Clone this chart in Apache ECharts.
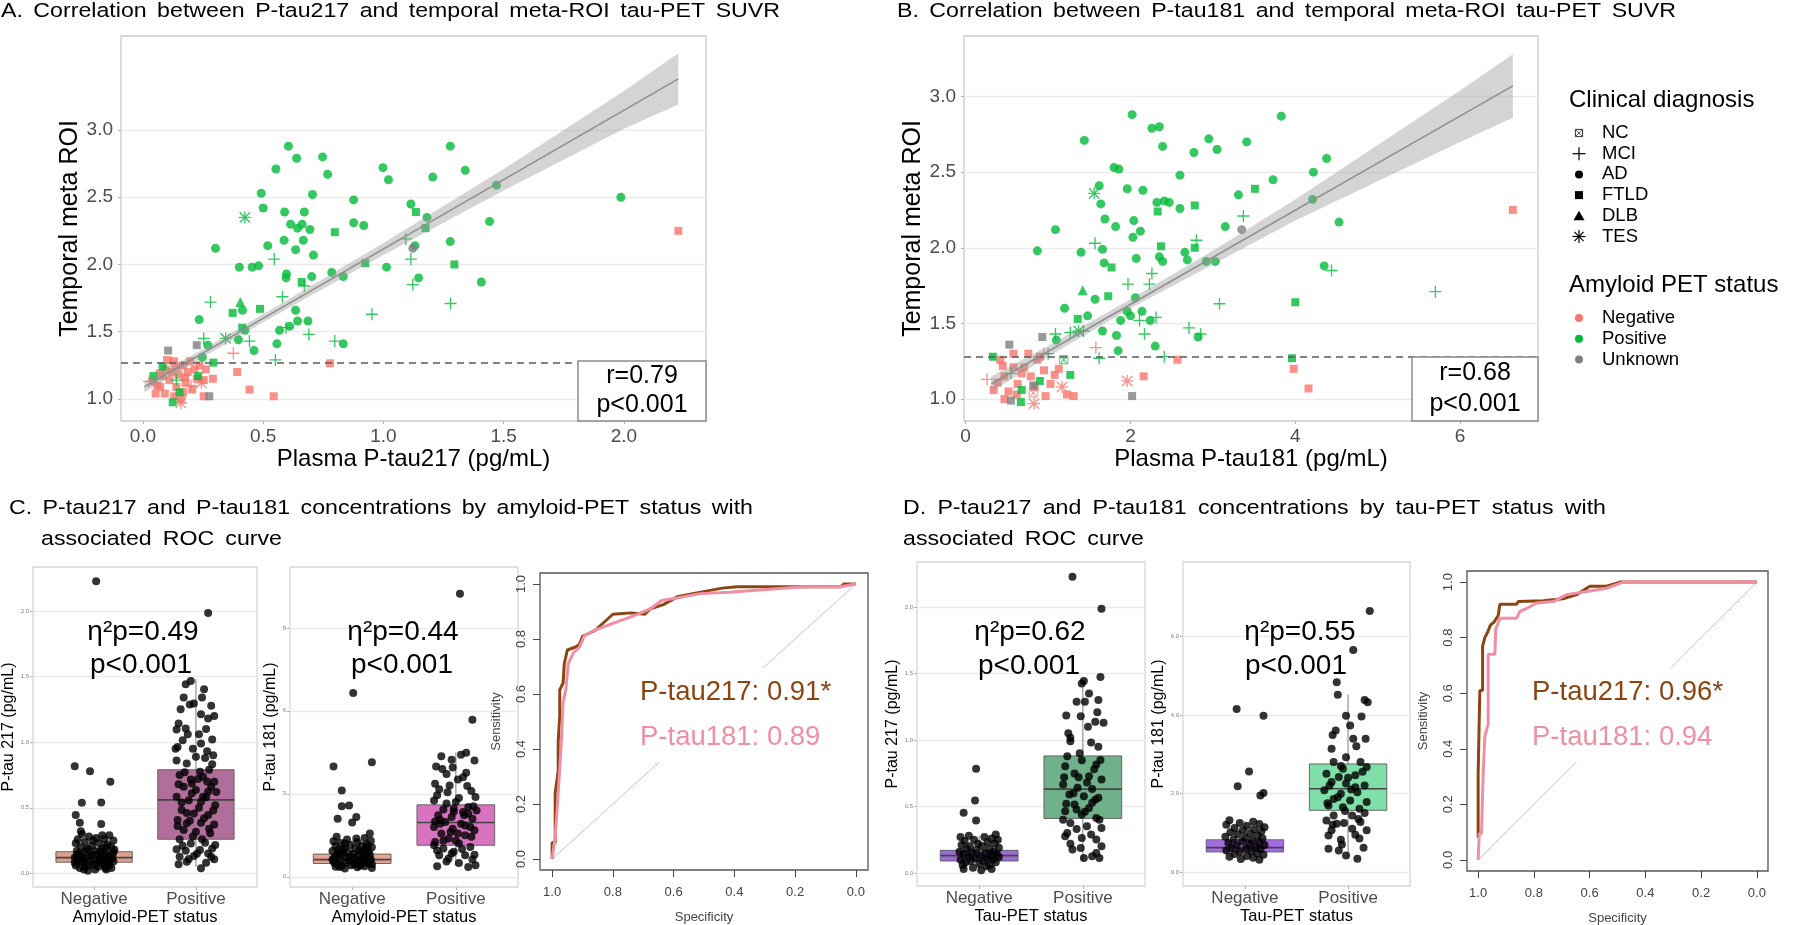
<!DOCTYPE html>
<html>
<head>
<meta charset="utf-8">
<script src="https://cdn.jsdelivr.net/npm/echarts@6.0.0/dist/echarts.min.js"></script>
<style>
html, body { margin: 0; padding: 0; background: #fff; }
#main { width: 1800px; height: 925px; }
</style>
</head>
<body>
<div id="main"></div>
<script>
// ---- data ----

// A: P-tau217 vs temporal meta-ROI SUVR  [x, y]
var aAdPos = [[0.605,2.88],[0.639,2.79],[0.747,2.80],[0.553,2.71],[0.768,2.67],[0.998,2.72],[1.021,2.63],[1.205,2.65],[1.340,2.70],[1.278,2.88],[0.492,2.53],[0.500,2.42],[0.705,2.52],[0.589,2.39],[0.671,2.39],[0.876,2.48],[1.114,2.45],[0.614,2.30],[0.662,2.30],[0.643,2.27],[0.694,2.26],[0.876,2.31],[0.918,2.29],[1.181,2.35],[1.441,2.32],[1.470,2.59],[1.987,2.50],[0.302,2.12],[0.519,2.14],[0.587,2.18],[0.667,2.18],[0.635,2.11],[0.709,2.07],[1.131,2.14],[1.278,2.17],[0.401,1.98],[0.454,1.98],[0.481,1.99],[0.597,1.93],[0.595,1.90],[0.702,1.91],[0.785,1.94],[0.833,1.91],[1.013,1.98],[1.146,1.90],[1.407,1.87],[0.234,1.59],[0.414,1.66],[0.635,1.66],[0.568,1.51],[0.610,1.54],[0.643,1.58],[0.686,1.58],[0.424,1.51],[0.397,1.44],[0.557,1.41],[0.462,1.36],[0.833,1.41],[0.270,1.40],[0.247,1.31]];
var aFtldPos = [[0.798,2.24],[1.135,2.39],[1.175,2.27],[0.924,2.01],[1.295,2.00],[0.660,1.87],[0.373,1.64],[0.487,1.67],[0.413,1.53],[0.293,1.27],[0.082,1.24],[0.044,1.17],[0.124,0.975],[0.230,1.17],[0.152,1.05]];
var aMciPos = [[0.546,2.04],[1.093,2.19],[1.114,2.04],[1.122,1.85],[1.279,1.71],[0.952,1.63],[0.281,1.72],[0.580,1.76],[0.671,1.84],[0.690,1.48],[0.798,1.43],[0.443,1.43],[0.253,1.45],[0.551,1.29],[0.595,1.53],[0.139,1.14]];
var aDlbPos = [[0.405,1.72]];
var aTesPos = [[0.424,2.35],[0.344,1.45]];
var aFtldUnk = [[0.105,1.36],[0.224,1.40],[0.276,1.02]];
var aAdUnk = [[1.122,2.12]];
var aFtldNeg = [[2.226,2.25],[0.778,1.265],[0.392,1.20],[0.443,1.07],[0.544,1.02],[0.253,1.02],[0.053,1.04],[0.072,1.09],[0.100,1.29],[0.129,1.28],[0.167,1.25],[0.186,1.20],[0.215,1.22],[0.262,1.22],[0.291,1.15],[0.253,1.14],[0.158,1.00],[0.139,1.09],[0.110,1.14],[0.082,1.17],[0.044,1.13],[0.177,1.12],[0.205,1.07],[0.120,1.20],[0.148,1.18],[0.091,1.04],[0.224,1.15],[0.167,1.05],[0.060,1.10],[0.095,1.22],[0.140,1.24],[0.175,1.16],[0.195,1.28],[0.235,1.25],[0.130,1.02],[0.070,1.19]];
var aMciNeg = [[0.376,1.34],[0.025,1.13],[0.120,1.27],[0.200,1.10]];
var aTesNeg = [[0.158,0.97],[0.243,1.12]];
var aFit = [[0.006,1.09],[2.226,3.38]];
var aBandX = [0.006, 0.25, 0.5, 1.0, 1.5, 2.0, 2.226];
var aBandLo = [1.05, 1.31, 1.57, 2.07, 2.55, 3.01, 3.19];
var aBandHi = [1.13, 1.37, 1.63, 2.16, 2.71, 3.29, 3.57];
var aCut = 1.27;
var aXTicks = [0, 0.5, 1, 1.5, 2];
var aYTicks = [1, 1.5, 2, 2.5, 3];

// B: P-tau181 vs temporal meta-ROI SUVR  [x, y]
var bAdPos = [[2.02,2.88],[3.83,2.87],[2.26,2.79],[2.35,2.80],[1.44,2.71],[2.95,2.72],[3.41,2.70],[2.39,2.67],[2.77,2.63],[3.05,2.65],[4.38,2.59],[1.80,2.53],[1.86,2.52],[4.22,2.50],[2.60,2.48],[1.62,2.41],[1.96,2.39],[2.15,2.38],[3.73,2.45],[3.31,2.35],[1.64,2.29],[2.32,2.30],[2.41,2.31],[2.47,2.30],[2.60,2.26],[4.21,2.32],[1.69,2.19],[2.04,2.18],[4.53,2.17],[1.09,2.12],[1.82,2.14],[2.12,2.11],[2.03,2.07],[3.15,2.14],[0.87,1.98],[1.40,1.97],[1.66,1.99],[2.07,1.93],[2.35,1.94],[2.39,1.91],[2.66,1.97],[2.69,1.92],[2.92,1.91],[3.03,1.91],[4.35,1.88],[1.68,1.90],[1.20,1.60],[1.48,1.55],[1.57,1.66],[2.06,1.67],[1.96,1.58],[2.14,1.58],[2.00,1.55],[1.88,1.52],[2.24,1.52],[1.66,1.45],[1.83,1.42],[1.85,1.32],[2.30,1.35],[2.82,1.41],[1.10,1.39]];
var bFtldPos = [[3.51,2.39],[2.78,2.28],[2.33,2.24],[2.37,2.01],[2.78,2.00],[1.77,1.87],[1.73,1.68],[4.00,1.64],[1.36,1.53],[3.96,1.27],[0.33,1.28],[1.27,1.16],[0.90,1.12],[0.68,1.06],[0.67,0.98]];
var bMciPos = [[3.37,2.21],[1.57,2.03],[2.80,2.05],[4.44,1.85],[2.26,1.83],[1.97,1.76],[2.23,1.76],[3.08,1.63],[5.70,1.71],[2.31,1.54],[2.11,1.52],[2.17,1.43],[2.71,1.47],[2.85,1.43],[1.43,1.45],[1.27,1.44],[1.09,1.43],[1.62,1.27],[2.41,1.28],[1.00,1.30],[0.55,1.17]];
var bDlbPos = [[1.42,1.72]];
var bTesPos = [[1.56,2.36],[1.37,1.45]];
var bNcPos = [[1.19,1.26]];
var bNcNeg = [[0.82,1.04]];
var bFtldUnk = [[0.53,1.36],[0.93,1.41],[2.02,1.02],[0.82,1.09],[0.55,0.99]];
var bAdUnk = [[3.35,2.12]];
var bFtldNeg = [[6.64,2.25],[2.57,1.26],[3.98,1.20],[4.16,1.07],[2.16,1.15],[0.34,1.06],[0.42,1.26],[0.47,1.15],[0.58,1.30],[0.63,1.10],[0.71,1.21],[0.79,1.15],[0.87,1.26],[0.95,1.19],[1.03,1.10],[1.08,1.16],[1.13,1.20],[1.23,1.03],[1.31,1.02],[0.97,1.02],[0.47,1.00],[0.39,1.11],[0.52,1.05],[0.68,1.17],[0.84,1.08],[0.90,1.28],[0.58,1.21],[0.76,1.30],[0.45,1.22],[0.62,1.03]];
var bMciNeg = [[0.26,1.13],[1.58,1.34],[0.95,1.30]];
var bTesNeg = [[1.96,1.12],[1.17,1.08],[0.83,0.97]];
var bFit = [[0.31,1.10],[6.64,3.07]];
var bBandX = [0.31, 1.0, 2.0, 3.0, 4.0, 5.0, 6.0, 6.64];
var bBandLo = [1.05, 1.28, 1.60, 1.89, 2.18, 2.44, 2.70, 2.86];
var bBandHi = [1.15, 1.35, 1.66, 1.98, 2.32, 2.68, 3.04, 3.28];
var bCut = 1.28;
var bXTicks = [0, 2, 4, 6];
var bYTicks = [1, 1.5, 2, 2.5, 3];

// box plots: [category, min, q1, median, q3, max]
var boxCats = ['Negative', 'Positive'];
var c1Box = [[1, 0.02, 0.085, 0.12, 0.165, 0.28], [2, 0.05, 0.26, 0.56, 0.79, 1.48]];
var c2Box = [[1, 0.28, 0.48, 0.62, 0.82, 1.32], [2, 0.38, 1.14, 1.96, 2.60, 4.50]];
var d1Box = [[1, 0.02, 0.09, 0.13, 0.17, 0.28], [2, 0.09, 0.41, 0.63, 0.88, 1.40]];
var d2Box = [[1, 0.28, 0.51, 0.62, 0.82, 1.30], [2, 0.38, 1.57, 2.12, 2.75, 4.52]];

// jittered points: [offset from category, value]
var c1NegJit = [[0.02,2.226],[-0.19,0.817],[-0.04,0.779],[0.16,0.698],[-0.12,0.538],[0.07,0.541],[-0.18,0.444],[-0.14,0.386],[0.07,0.376],[-0.12,0.30],[0.15,0.29],[-0.05,0.28],[0.02,0.27],[-0.16,0.26],[0.10,0.26],[0.19,0.25],[-0.09,0.24],[0.05,0.23],[-0.18,0.23],[0.13,0.22],[-0.02,0.21],[0.17,0.20],[-0.13,0.20],[0.08,0.19],[-0.06,0.18],[0.20,0.18],[0.01,0.17],[-0.17,0.17],[0.11,0.16],[-0.10,0.16],[0.04,0.15],[0.18,0.15],[-0.14,0.14],[0.09,0.14],[-0.03,0.13],[0.14,0.13],[-0.19,0.12],[0.06,0.12],[-0.08,0.12],[0.16,0.11],[-0.12,0.11],[0.02,0.10],[0.12,0.10],[-0.16,0.10],[-0.05,0.09],[0.19,0.09],[0.07,0.08],[-0.11,0.08],[0.14,0.07],[-0.01,0.07],[-0.18,0.06],[0.10,0.06],[0.04,0.05],[-0.09,0.05],[0.17,0.04],[-0.14,0.04],[0.01,0.03],[0.12,0.03],[-0.06,0.02],[-0.07,0.19],[0.12,0.20],[-0.15,0.15],[0.06,0.17],[0.18,0.12],[-0.02,0.14],[-0.12,0.09],[0.09,0.10],[0.15,0.06],[-0.05,0.06],[0.03,0.08],[-0.19,0.08],[0.11,0.04],[-0.10,0.03],[0.07,0.12],[-0.17,0.13],[0.19,0.16],[-0.01,0.25],[0.08,0.29],[-0.13,0.32]];
var c1PosJit = [[0.12,1.985],[-0.05,1.467],[-0.10,1.442],[0.08,1.404],[-0.12,1.340],[-0.06,1.287],[-0.02,1.294],[0.06,1.340],[0.15,1.277],[0.12,1.180],[0.18,1.200],[0.05,1.213],[-0.17,1.142],[-0.10,1.104],[-0.19,1.096],[-0.13,1.015],[-0.18,0.964],[0.05,0.990],[0.11,0.931],[0.00,0.888],[-0.09,0.838],[0.16,0.832],[-0.16,0.749],[-0.05,0.716],[0.07,0.736],[0.18,0.698],[-0.12,0.660],[0.00,0.635],[0.12,0.622],[-0.19,0.584],[-0.07,0.558],[0.05,0.546],[0.19,0.520],[-0.14,0.482],[-0.02,0.457],[0.12,0.444],[-0.18,0.406],[-0.09,0.381],[0.05,0.386],[0.18,0.373],[-0.12,0.330],[0.00,0.317],[0.14,0.305],[-0.16,0.259],[-0.05,0.228],[0.09,0.234],[0.19,0.216],[-0.19,0.183],[-0.10,0.173],[0.04,0.178],[0.12,0.152],[-0.16,0.127],[-0.02,0.132],[0.18,0.107],[-0.09,0.089],[0.05,0.038],[0.15,0.127],[0.07,0.584],[-0.04,0.685],[0.04,0.774],[-0.15,1.25],[0.10,1.10],[-0.08,1.06],[0.16,1.02],[-0.03,0.95],[0.09,0.88],[-0.19,0.86],[0.13,0.79],[-0.11,0.77],[0.02,0.72],[-0.17,0.68],[0.15,0.66],[-0.04,0.61],[0.10,0.58],[-0.14,0.54],[0.17,0.48],[0.03,0.50],[-0.09,0.46],[0.08,0.42],[-0.18,0.36],[0.13,0.34],[-0.03,0.28],[0.06,0.26],[-0.13,0.21],[0.16,0.19],[0.01,0.15],[-0.07,0.11],[0.10,0.08],[-0.17,0.07],[0.20,0.62],[-0.20,0.95],[0.03,1.06],[0.17,0.90],[-0.06,0.40],[0.11,0.70]];
var c2NegJit = [[0.01,6.64],[-0.18,3.99],[0.19,4.14],[-0.10,3.12],[-0.10,2.55],[-0.03,2.58],[-0.14,2.10],[0.04,2.16],[0.00,1.96],[0.17,1.56],[-0.15,1.45],[0.12,1.40],[-0.05,1.35],[0.18,1.30],[-0.18,1.28],[0.05,1.25],[-0.11,1.22],[0.14,1.18],[-0.02,1.15],[0.09,1.12],[-0.16,1.10],[0.19,1.07],[-0.07,1.05],[0.03,1.02],[0.13,1.00],[-0.13,0.98],[0.07,0.95],[-0.19,0.93],[0.16,0.90],[-0.04,0.88],[0.11,0.86],[-0.10,0.84],[0.01,0.82],[0.17,0.80],[-0.15,0.78],[0.06,0.76],[-0.08,0.74],[0.14,0.72],[-0.17,0.70],[0.02,0.68],[0.10,0.66],[-0.12,0.64],[0.18,0.62],[-0.03,0.60],[0.08,0.58],[-0.18,0.56],[0.13,0.54],[-0.06,0.52],[0.04,0.50],[0.16,0.48],[-0.14,0.46],[0.09,0.44],[-0.01,0.42],[-0.10,0.40],[0.12,0.38],[-0.16,0.36],[0.05,0.34],[0.19,0.32],[-0.07,0.30],[-0.09,0.95],[0.13,0.62],[-0.17,0.50],[0.07,0.40],[0.17,0.55],[-0.02,0.72],[-0.12,0.35],[0.10,0.92],[-0.07,1.20],[0.04,1.38],[0.19,0.45],[-0.19,0.62],[0.02,0.46],[-0.14,0.85],[0.15,1.10]];
var c2PosJit = [[0.04,10.23],[0.16,5.68],[0.10,4.48],[0.05,4.41],[-0.14,4.36],[-0.04,4.23],[0.18,4.20],[-0.19,3.99],[0.10,3.76],[-0.09,3.72],[0.02,3.52],[-0.20,3.36],[0.11,3.28],[-0.16,3.16],[-0.08,3.06],[0.19,2.88],[-0.21,2.76],[0.00,2.70],[0.12,2.52],[-0.12,2.43],[0.07,2.34],[-0.17,2.22],[-0.04,2.16],[0.16,2.10],[-0.10,1.98],[0.05,1.92],[-0.21,1.80],[-0.03,1.74],[0.18,1.68],[-0.14,1.56],[0.09,1.50],[-0.07,1.38],[-0.20,1.26],[0.03,1.20],[0.14,1.08],[-0.12,1.02],[-0.02,0.90],[-0.16,0.78],[0.09,0.78],[-0.07,0.66],[0.16,0.62],[-0.18,0.38],[0.03,0.50],[0.19,0.42],[-0.04,0.84],[0.02,1.56],[-0.15,1.92],[0.08,2.22],[-0.02,2.46],[-0.21,1.14],[-0.13,3.9],[0.07,3.6],[-0.06,3.3],[0.15,3.1],[-0.18,2.95],[0.03,2.85],[-0.09,2.65],[0.17,2.55],[-0.02,2.35],[0.12,2.28],[-0.15,2.05],[0.09,1.85],[-0.05,1.62],[0.15,1.45],[-0.12,1.30],[0.06,1.00],[-0.18,0.95],[0.18,0.80],[-0.09,0.55],[0.12,0.35],[0.00,1.30],[-0.20,2.00],[0.20,2.40],[-0.03,3.95],[0.14,1.80]];
var d1NegJit = [[-0.03,0.783],[-0.04,0.545],[-0.15,0.452],[-0.03,0.394],[0.16,0.29],[-0.10,0.28],[0.05,0.27],[-0.18,0.27],[0.12,0.26],[-0.05,0.25],[0.18,0.25],[-0.14,0.24],[0.08,0.23],[-0.01,0.22],[0.15,0.22],[-0.17,0.21],[0.03,0.20],[-0.09,0.20],[0.19,0.19],[0.10,0.18],[-0.12,0.18],[-0.03,0.17],[0.14,0.16],[-0.19,0.16],[0.06,0.15],[-0.07,0.15],[0.17,0.14],[-0.15,0.14],[0.01,0.13],[0.11,0.13],[-0.10,0.12],[0.19,0.12],[-0.04,0.11],[0.08,0.11],[-0.18,0.10],[0.13,0.10],[-0.08,0.09],[0.04,0.09],[0.16,0.08],[-0.13,0.08],[0.00,0.07],[0.10,0.06],[-0.16,0.06],[0.07,0.05],[-0.06,0.04],[-0.15,0.03],[0.12,0.03],[0.02,0.02]];
var d1PosJit = [[-0.10,2.228],[0.18,1.987],[0.17,1.473],[0.01,1.443],[-0.01,1.425],[0.06,1.350],[-0.06,1.287],[0.02,1.287],[0.15,1.300],[-0.16,1.184],[-0.02,1.179],[0.14,1.209],[0.05,1.099],[0.12,1.137],[0.20,1.129],[-0.12,1.016],[-0.12,0.991],[0.15,0.949],[-0.15,0.878],[-0.01,0.848],[0.13,0.816],[-0.17,0.803],[-0.08,0.748],[0.06,0.728],[0.18,0.703],[-0.19,0.665],[-0.05,0.640],[0.09,0.632],[-0.13,0.590],[0.01,0.577],[0.15,0.565],[-0.08,0.514],[0.06,0.489],[-0.17,0.464],[-0.01,0.439],[0.13,0.414],[-0.12,0.376],[0.04,0.351],[0.18,0.339],[-0.15,0.301],[-0.01,0.263],[0.13,0.251],[-0.17,0.276],[-0.10,0.176],[-0.02,0.188],[0.13,0.151],[0.01,0.113],[0.09,0.125],[0.16,0.113],[-0.06,0.477],[0.09,0.527],[-0.14,1.05],[0.08,0.98],[-0.03,0.90],[0.17,0.85],[-0.18,0.72],[0.04,0.68],[-0.09,0.60],[0.12,0.55],[-0.16,0.52],[0.02,0.46],[0.16,0.40],[-0.06,0.33],[0.08,0.29],[-0.12,0.22],[0.18,0.20],[-0.04,0.72],[0.11,0.78],[-0.19,0.40]];
var d2NegJit = [[-0.08,4.15],[0.18,3.98],[0.04,2.56],[-0.07,2.18],[0.18,2.01],[0.15,1.95],[-0.15,1.32],[0.08,1.28],[-0.05,1.25],[0.14,1.22],[-0.18,1.20],[0.02,1.17],[0.19,1.14],[-0.10,1.12],[0.09,1.09],[-0.02,1.06],[0.16,1.04],[-0.14,1.01],[0.05,0.98],[-0.07,0.96],[0.12,0.93],[-0.19,0.90],[0.00,0.88],[0.17,0.86],[-0.11,0.83],[0.07,0.81],[-0.03,0.78],[0.14,0.76],[-0.16,0.74],[0.04,0.71],[0.19,0.69],[-0.08,0.67],[0.10,0.64],[-0.13,0.62],[0.01,0.60],[0.15,0.58],[-0.18,0.55],[0.06,0.53],[-0.05,0.51],[0.12,0.48],[-0.10,0.46],[0.18,0.44],[0.02,0.41],[-0.15,0.39],[0.08,0.36],[-0.04,0.33],[0.14,0.31]];
var d2PosJit = [[0.21,6.64],[0.05,5.65],[-0.11,4.83],[-0.10,4.51],[0.16,4.38],[0.19,4.32],[-0.02,3.98],[0.13,3.96],[0.02,3.73],[-0.15,3.49],[0.05,3.39],[0.17,3.39],[-0.16,3.14],[-0.02,2.92],[-0.14,2.80],[0.12,2.80],[-0.05,2.63],[0.18,2.67],[-0.21,2.50],[-0.09,2.42],[0.07,2.46],[-0.16,2.29],[-0.02,2.25],[0.16,2.20],[-0.23,2.08],[-0.07,1.99],[0.09,2.03],[-0.14,1.86],[0.02,1.82],[0.18,1.78],[-0.19,1.69],[-0.05,1.65],[0.11,1.61],[-0.14,1.44],[0.04,1.44],[-0.21,1.31],[-0.04,1.25],[0.12,1.27],[-0.16,1.06],[0.04,1.10],[0.18,1.06],[-0.19,0.93],[-0.07,0.82],[0.11,0.85],[-0.19,0.59],[-0.09,0.55],[-0.02,0.42],[0.09,0.34],[-0.11,1.23],[0.07,2.16],[-0.12,3.60],[0.08,3.20],[-0.07,2.70],[0.14,2.55],[-0.18,2.20],[0.03,2.10],[-0.10,1.90],[0.16,1.50],[-0.03,1.55],[0.10,1.35],[-0.15,1.20],[0.07,0.95],[-0.06,0.70],[0.15,0.62],[0.00,2.40],[-0.20,1.75]];

// ROC curves: [specificity, sensitivity]
var c3Roc217 = [[1.0,0.0],[1.0,0.06],[0.99,0.06],[0.99,0.24],[0.98,0.32],[0.98,0.43],[0.975,0.52],[0.975,0.615],[0.964,0.64],[0.96,0.71],[0.95,0.76],[0.925,0.77],[0.91,0.78],[0.90,0.81],[0.86,0.83],[0.83,0.86],[0.80,0.89],[0.74,0.895],[0.695,0.89],[0.676,0.91],[0.634,0.925],[0.585,0.955],[0.537,0.965],[0.44,0.985],[0.39,0.99],[0.05,0.99],[0.04,1.0],[0.0,1.0]];
var c3Roc181 = [[1.0,0.0],[0.99,0.08],[0.983,0.19],[0.976,0.31],[0.97,0.42],[0.964,0.57],[0.955,0.615],[0.947,0.71],[0.93,0.75],[0.91,0.77],[0.895,0.81],[0.865,0.83],[0.828,0.845],[0.78,0.865],[0.73,0.885],[0.676,0.91],[0.64,0.94],[0.585,0.95],[0.513,0.965],[0.416,0.97],[0.295,0.98],[0.173,0.99],[0.05,0.99],[0.0,1.0]];
var d3Roc217 = [[1.0,0.08],[1.0,0.31],[0.994,0.31],[0.994,0.61],[0.984,0.61],[0.984,0.77],[0.976,0.80],[0.966,0.82],[0.956,0.845],[0.944,0.855],[0.928,0.88],[0.922,0.92],[0.862,0.92],[0.856,0.93],[0.766,0.933],[0.695,0.94],[0.647,0.955],[0.599,0.985],[0.539,0.985],[0.491,1.0],[0.0,1.0]];
var d3Roc181 = [[1.0,0.0],[0.996,0.095],[0.988,0.095],[0.982,0.31],[0.976,0.445],[0.964,0.49],[0.964,0.74],[0.94,0.74],[0.937,0.83],[0.922,0.87],[0.862,0.87],[0.85,0.895],[0.826,0.905],[0.79,0.925],[0.73,0.93],[0.683,0.955],[0.611,0.966],[0.539,0.978],[0.479,1.0],[0.0,1.0]];
var rocDiag = [[1, 0], [0, 1]];
var rocTicks = [0, 0.2, 0.4, 0.6, 0.8, 1];

// ---- styles ----
var FONT = "'Liberation Sans', Arial, Helvetica, sans-serif";
var RED = '#F8766D', GREEN = '#00BA38', GREY = '#7F7F7F';
var BROWN = '#8B4513', PINK = '#F08FA3';
var P_NC = 'M0,0 H10 V10 H0 Z M1,9 H9 V1 H1 Z M1.5,2.2 L2.2,1.5 L8.5,7.8 L7.8,8.5 Z M7.8,1.5 L8.5,2.2 L2.2,8.5 L1.5,7.8 Z';
var P_PLUS = 'M4.45,0 H5.55 V4.45 H10 V5.55 H5.55 V10 H4.45 V5.55 H0 V4.45 H4.45 Z';
var P_AST = P_PLUS + ' M1.1,0.3 L9.7,8.9 L8.9,9.7 L0.3,1.1 Z M8.9,0.3 L9.7,1.1 L1.1,9.7 L0.3,8.9 Z';
var SHAPES = {
    NC: { symbol: 'path://' + P_NC, size: 9 },
    MCI: { symbol: 'path://' + P_PLUS, size: 12 },
    AD: { symbol: 'circle', size: 9 },
    FTLD: { symbol: 'rect', size: 8 },
    DLB: { symbol: 'triangle', size: 10 },
    TES: { symbol: 'path://' + P_AST, size: 12 }
};
var STATUS = { Negative: RED, Positive: GREEN, Unknown: GREY };
var FILLS = {
    c1: ['#DBA18B', '#B26E9B'],
    c2: ['#E1A590', '#D873BF'],
    d1: ['#9C6BD6', '#70B08A'],
    d2: ['#A56DE3', '#80DFA9']
};

var dom = document.getElementById('main');
var myChart = echarts.init(dom, null, { renderer: 'canvas' });

function grid(left, top, width, height, border) {
    return {
        left: left, top: top, width: width, height: height, show: true,
        borderColor: border, borderWidth: 1.3, backgroundColor: 'transparent',
        containLabel: false, outerBoundsMode: 'none'
    };
}

function vAxis(gi, min, max, ticks, fmt, o) {
    return {
        gridIndex: gi, type: 'value', min: min, max: max, inverse: !!o.inverse,
        axisLine: { show: false, onZero: false },
        axisTick: { show: true, length: o.tickLen || 3, lineStyle: { color: o.tickColor || '#B3B3B3', width: 1 }, customValues: ticks },
        axisLabel: { customValues: ticks, formatter: fmt, fontSize: o.labelSize, color: o.labelColor || '#4D4D4D',
            margin: o.margin, rotate: o.rotate || 0, fontFamily: FONT },
        splitLine: { show: !!o.split, lineStyle: { color: '#EBEBEB', width: 1.3 } },
        name: o.name || '', nameLocation: 'middle', nameGap: o.nameGap,
        nameTextStyle: { fontSize: o.nameSize, color: o.nameColor || '#000', fontFamily: FONT }
    };
}

function fix1(v) { return Number(v).toFixed(1); }
function fix0(v) { return Number(v).toFixed(0); }
function catName(v) { return boxCats[Math.round(v) - 1]; }

function pts(gi, diag, status, data) {
    return { type: 'scatter', xAxisIndex: gi, yAxisIndex: gi, symbol: SHAPES[diag].symbol,
        symbolSize: SHAPES[diag].size, itemStyle: { color: STATUS[status] }, data: data, z: 3, silent: true };
}

function band(gi, xs, lo, hi) {
    return {
        type: 'custom', xAxisIndex: gi, yAxisIndex: gi, silent: true, z: 4,
        data: [[xs[0], lo[0]]],
        renderItem: function (params, api) {
            var top = [], bot = [];
            for (var i = 0; i < xs.length; i++) {
                top.push(api.coord([xs[i], hi[i]]));
                bot.unshift(api.coord([xs[i], lo[i]]));
            }
            return { type: 'polygon', shape: { points: top.concat(bot) }, style: { fill: 'rgba(153,153,153,0.42)' } };
        }
    };
}

function fit(gi, data, cut) {
    return {
        type: 'line', xAxisIndex: gi, yAxisIndex: gi, data: data, symbol: 'none', silent: true, z: 5,
        lineStyle: { color: '#8F8F8F', width: 1.6 },
        markLine: { silent: true, symbol: 'none', label: { show: false },
            lineStyle: { type: [7, 5], color: '#595959', width: 1.6 }, data: [{ yAxis: cut }] }
    };
}

function boxes(gi, data, fills) {
    return {
        type: 'custom', xAxisIndex: gi, yAxisIndex: gi, silent: true, z: 2, data: data,
        encode: { x: 0, y: [1, 2, 3, 4, 5] },
        renderItem: function (params, api) {
            var x = api.value(0);
            var lo = api.coord([x, api.value(1)]), q1 = api.coord([x, api.value(2)]);
            var md = api.coord([x, api.value(3)]), q3 = api.coord([x, api.value(4)]);
            var hi = api.coord([x, api.value(5)]);
            var half = api.size([0.375, 0])[0];
            var wl = { stroke: '#9A9A9A', lineWidth: 1.3 };
            return { type: 'group', children: [
                { type: 'line', shape: { x1: lo[0], y1: lo[1], x2: q1[0], y2: q1[1] }, style: wl },
                { type: 'line', shape: { x1: q3[0], y1: q3[1], x2: hi[0], y2: hi[1] }, style: wl },
                { type: 'rect', shape: { x: q3[0] - half, y: q3[1], width: half * 2, height: q1[1] - q3[1] },
                    style: { fill: fills[params.dataIndex], stroke: '#5A5A5A', lineWidth: 0.9 } },
                { type: 'line', shape: { x1: md[0] - half, y1: md[1], x2: md[0] + half, y2: md[1] },
                    style: { stroke: '#444', lineWidth: 1.6 } }
            ] };
        }
    };
}

function jit(gi, cat, arr) {
    return { type: 'scatter', xAxisIndex: gi, yAxisIndex: gi, symbol: 'circle', symbolSize: 8, silent: true, z: 4,
        itemStyle: { color: '#000' }, data: arr.map(function (p) { return [cat + p[0], p[1]]; }) };
}

function roc(gi, data, color, width, z) {
    return { type: 'line', xAxisIndex: gi, yAxisIndex: gi, data: data, symbol: 'none', silent: true, z: z,
        lineStyle: { color: color, width: width } };
}

function txt(x, y, s, size, color, align, z) {
    return { type: 'text', x: x, y: y, z: z || 100,
        style: { text: s, fontSize: size, fontFamily: FONT, fill: color || '#000', align: align || 'left', verticalAlign: 'middle' } };
}

// headings: glyphs slightly stretched horizontally, words spread between x0 and x1
var TITLE_SIZE = 20.5, TITLE_STRETCH = 1.13;
var measureCtx = document.createElement('canvas').getContext('2d');
function justify(x0, x1, y, str) {
    measureCtx.font = TITLE_SIZE + 'px ' + FONT;
    var words = str.split(' ');
    var widths = words.map(function (w) { return measureCtx.measureText(w).width * TITLE_STRETCH; });
    var total = widths.reduce(function (a, b) { return a + b; }, 0);
    var gap = (x1 - x0 - total) / (words.length - 1);
    var x = x0, out = [];
    words.forEach(function (w, i) {
        var t = txt(x, y, w, TITLE_SIZE);
        t.scaleX = TITLE_STRETCH;
        out.push(t);
        x += widths[i] + gap;
    });
    return out;
}

// axes
var boxX = function (gi, title) {
    return vAxis(gi, 0.4, 2.6, [1, 2], catName, { labelSize: 17, margin: 4, name: title, nameGap: 21, nameSize: 16.5 });
};
var rocX = function (gi) {
    return vAxis(gi, -0.04, 1.04, rocTicks, fix1, { inverse: true, tickLen: 7, tickColor: '#444', labelSize: 13,
        labelColor: '#444', margin: 16, name: 'Specificity', nameGap: 41, nameSize: 13, nameColor: '#444' });
};
var rocY = function (gi) {
    return vAxis(gi, -0.04, 1.04, rocTicks, fix1, { tickLen: 7, tickColor: '#444', labelSize: 13,
        labelColor: '#444', margin: 12, rotate: 90, name: 'Sensitivity', nameGap: 37, nameSize: 13, nameColor: '#444' });
};
var smallY = function (gi, min, max, ticks, fmt, title, gap) {
    return vAxis(gi, min, max, ticks, fmt, { split: true, labelSize: 6, labelColor: '#7F7F7F', margin: 4,
        name: title, nameGap: gap, nameSize: 16 });
};

var xAxes = [
    vAxis(0, -0.091, 2.341, aXTicks, fix1, { labelSize: 19, margin: 6, name: 'Plasma P-tau217 (pg/mL)', nameGap: 26, nameSize: 24 }),
    vAxis(1, -0.02, 6.945, bXTicks, fix0, { labelSize: 19, margin: 6, name: 'Plasma P-tau181 (pg/mL)', nameGap: 26, nameSize: 24 }),
    boxX(2, 'Amyloid-PET status'),
    boxX(3, 'Amyloid-PET status'),
    rocX(4),
    boxX(5, 'Tau-PET status'),
    boxX(6, 'Tau-PET status'),
    rocX(7)
];
var yAxes = [
    vAxis(0, 0.836, 3.699, aYTicks, fix1, { split: true, labelSize: 19, margin: 8, name: 'Temporal meta ROI', nameGap: 37, nameSize: 25 }),
    vAxis(1, 0.855, 3.40, bYTicks, fix1, { split: true, labelSize: 19, margin: 8, name: 'Temporal meta ROI', nameGap: 37, nameSize: 25 }),
    smallY(2, -0.104, 2.335, [0, 0.5, 1, 1.5, 2], fix1, 'P-tau 217 (pg/mL)', 14),
    smallY(3, -0.37, 11.2, [0, 3, 6, 9], fix0, 'P-tau 181 (pg/mL)', 8),
    rocY(4),
    smallY(5, -0.098, 2.338, [0, 0.5, 1, 1.5, 2], fix1, 'P-tau 217 (pg/mL)', 13),
    smallY(6, -0.356, 7.89, [0, 2, 4, 6], fix1, 'P-tau 181 (pg/mL)', 13),
    rocY(7)
];

var series = [
    pts(0, 'FTLD', 'Negative', aFtldNeg), pts(0, 'MCI', 'Negative', aMciNeg), pts(0, 'TES', 'Negative', aTesNeg),
    pts(0, 'AD', 'Positive', aAdPos), pts(0, 'FTLD', 'Positive', aFtldPos), pts(0, 'MCI', 'Positive', aMciPos),
    pts(0, 'DLB', 'Positive', aDlbPos), pts(0, 'TES', 'Positive', aTesPos),
    pts(0, 'FTLD', 'Unknown', aFtldUnk), pts(0, 'AD', 'Unknown', aAdUnk),
    band(0, aBandX, aBandLo, aBandHi), fit(0, aFit, aCut),

    pts(1, 'FTLD', 'Negative', bFtldNeg), pts(1, 'MCI', 'Negative', bMciNeg), pts(1, 'TES', 'Negative', bTesNeg),
    pts(1, 'NC', 'Negative', bNcNeg),
    pts(1, 'AD', 'Positive', bAdPos), pts(1, 'FTLD', 'Positive', bFtldPos), pts(1, 'MCI', 'Positive', bMciPos),
    pts(1, 'DLB', 'Positive', bDlbPos), pts(1, 'TES', 'Positive', bTesPos), pts(1, 'NC', 'Positive', bNcPos),
    pts(1, 'FTLD', 'Unknown', bFtldUnk), pts(1, 'AD', 'Unknown', bAdUnk),
    band(1, bBandX, bBandLo, bBandHi), fit(1, bFit, bCut),

    boxes(2, c1Box, FILLS.c1), jit(2, 1, c1NegJit), jit(2, 2, c1PosJit),
    boxes(3, c2Box, FILLS.c2), jit(3, 1, c2NegJit), jit(3, 2, c2PosJit),
    roc(4, rocDiag, '#C8C8C8', 1, 1), roc(4, c3Roc217, BROWN, 3, 3), roc(4, c3Roc181, PINK, 3, 4),
    boxes(5, d1Box, FILLS.d1), jit(5, 1, d1NegJit), jit(5, 2, d1PosJit),
    boxes(6, d2Box, FILLS.d2), jit(6, 1, d2NegJit), jit(6, 2, d2PosJit),
    roc(7, rocDiag, '#C8C8C8', 1, 1), roc(7, d3Roc217, BROWN, 3, 3), roc(7, d3Roc181, PINK, 3, 4)
];

// legend drawn as graphic elements
var clinNames = ['NC', 'MCI', 'AD', 'FTLD', 'DLB', 'TES'];
var ampNames = ['Negative', 'Positive', 'Unknown'];
function seg(x1, y1, x2, y2, color, w) {
    return { type: 'line', shape: { x1: x1, y1: y1, x2: x2, y2: y2 }, style: { stroke: color, lineWidth: w } };
}
function legendIcon(name, cx, cy) {
    var k;
    if (name === 'AD') return { type: 'circle', z: 100, shape: { cx: cx, cy: cy, r: 4 }, style: { fill: '#000' } };
    if (name === 'FTLD') return { type: 'rect', z: 100, shape: { x: cx - 4, y: cy - 4, width: 8, height: 8 }, style: { fill: '#000' } };
    if (name === 'DLB') return { type: 'polygon', z: 100, shape: { points: [[cx, cy - 5], [cx + 5.5, cy + 4.5], [cx - 5.5, cy + 4.5]] }, style: { fill: '#000' } };
    if (name === 'NC') {
        k = 3.6;
        return { type: 'group', z: 100, children: [
            { type: 'rect', shape: { x: cx - k, y: cy - k, width: 2 * k, height: 2 * k }, style: { fill: 'none', stroke: '#333', lineWidth: 1 } },
            seg(cx - k, cy - k, cx + k, cy + k, '#333', 0.8), seg(cx - k, cy + k, cx + k, cy - k, '#333', 0.8)
        ] };
    }
    k = 6.5;
    var kids = [seg(cx - k, cy, cx + k, cy, '#000', 1.2), seg(cx, cy - k, cx, cy + k, '#000', 1.2)];
    if (name === 'TES') {
        var d = 4.6;
        kids.push(seg(cx - d, cy - d, cx + d, cy + d, '#000', 1.2), seg(cx - d, cy + d, cx + d, cy - d, '#000', 1.2));
    }
    return { type: 'group', z: 100, children: kids };
}
var graphics = [].concat(
    justify(1, 780, 11.5, 'A. Correlation between P-tau217 and temporal meta-ROI tau-PET SUVR'),
    justify(897, 1676, 11.5, 'B. Correlation between P-tau181 and temporal meta-ROI tau-PET SUVR'),
    justify(9, 753, 508, 'C. P-tau217 and P-tau181 concentrations by amyloid-PET status with'),
    justify(41, 282, 539, 'associated ROC curve'),
    justify(903, 1606, 508, 'D. P-tau217 and P-tau181 concentrations by tau-PET status with'),
    justify(903, 1144, 539, 'associated ROC curve'),
    [
        // A / B correlation labels
        { type: 'rect', z: 99, shape: { x: 578, y: 361, width: 128, height: 60 }, style: { fill: '#fff', stroke: '#8C8C8C', lineWidth: 1.5 } },
        txt(642, 376, 'r=0.79', 25, '#000', 'center'), txt(642, 405, 'p<0.001', 25, '#000', 'center'),
        { type: 'rect', z: 99, shape: { x: 1412, y: 357, width: 126, height: 64 }, style: { fill: '#fff', stroke: '#8C8C8C', lineWidth: 1.5 } },
        txt(1475, 373, 'r=0.68', 25, '#000', 'center'), txt(1475, 404, 'p<0.001', 25, '#000', 'center'),
        // box plot stats
        txt(143, 632, 'η²p=0.49', 28, '#000', 'center'), txt(141, 665, 'p<0.001', 28, '#000', 'center'),
        txt(403, 632, 'η²p=0.44', 28, '#000', 'center'), txt(402, 665, 'p<0.001', 28, '#000', 'center'),
        txt(1030, 632, 'η²p=0.62', 28, '#000', 'center'), txt(1029, 666, 'p<0.001', 28, '#000', 'center'),
        txt(1300, 632, 'η²p=0.55', 28, '#000', 'center'), txt(1296, 666, 'p<0.001', 28, '#000', 'center'),
        // ROC labels
        { type: 'rect', z: 99, shape: { x: 638, y: 668, width: 210, height: 94 }, style: { fill: '#fff' } },
        txt(640, 692, 'P-tau217: 0.91*', 27.5, BROWN), txt(640, 737, 'P-tau181: 0.89', 27.5, PINK),
        { type: 'rect', z: 99, shape: { x: 1530, y: 668, width: 210, height: 94 }, style: { fill: '#fff' } },
        txt(1532, 692, 'P-tau217: 0.96*', 27.5, BROWN), txt(1532, 737, 'P-tau181: 0.94', 27.5, PINK),
        // legend
        txt(1569, 100, 'Clinical diagnosis', 24),
        txt(1569, 285, 'Amyloid PET status', 24)
    ]
);
clinNames.forEach(function (n, i) {
    var cy = 133 + i * 20.7;
    graphics.push(legendIcon(n, 1579, cy));
    graphics.push(txt(1602, cy, n, 18.5));
});
ampNames.forEach(function (n, i) {
    var cy = 318 + i * 20.8;
    graphics.push({ type: 'circle', z: 100, shape: { cx: 1579, cy: cy, r: 4 }, style: { fill: STATUS[n] } });
    graphics.push(txt(1602, cy, n, 18.5));
});

var option = {
    backgroundColor: '#fff',
    animation: false,
    textStyle: { fontFamily: FONT },
    grid: [
        grid(121, 36, 585, 385, '#CCCCCC'),
        grid(964, 36, 574, 385, '#CCCCCC'),
        grid(33, 567, 224, 320, '#D6D6D6'),
        grid(290, 567, 228, 320, '#D6D6D6'),
        grid(540, 573, 328, 297, '#555555'),
        grid(917, 562, 228, 324, '#D6D6D6'),
        grid(1183, 562, 227, 324, '#D6D6D6'),
        grid(1467, 571, 301, 300, '#555555')
    ],
    xAxis: xAxes,
    yAxis: yAxes,
    series: series,
    graphic: { elements: graphics }
};
myChart.setOption(option);
</script>
</body>
</html>
